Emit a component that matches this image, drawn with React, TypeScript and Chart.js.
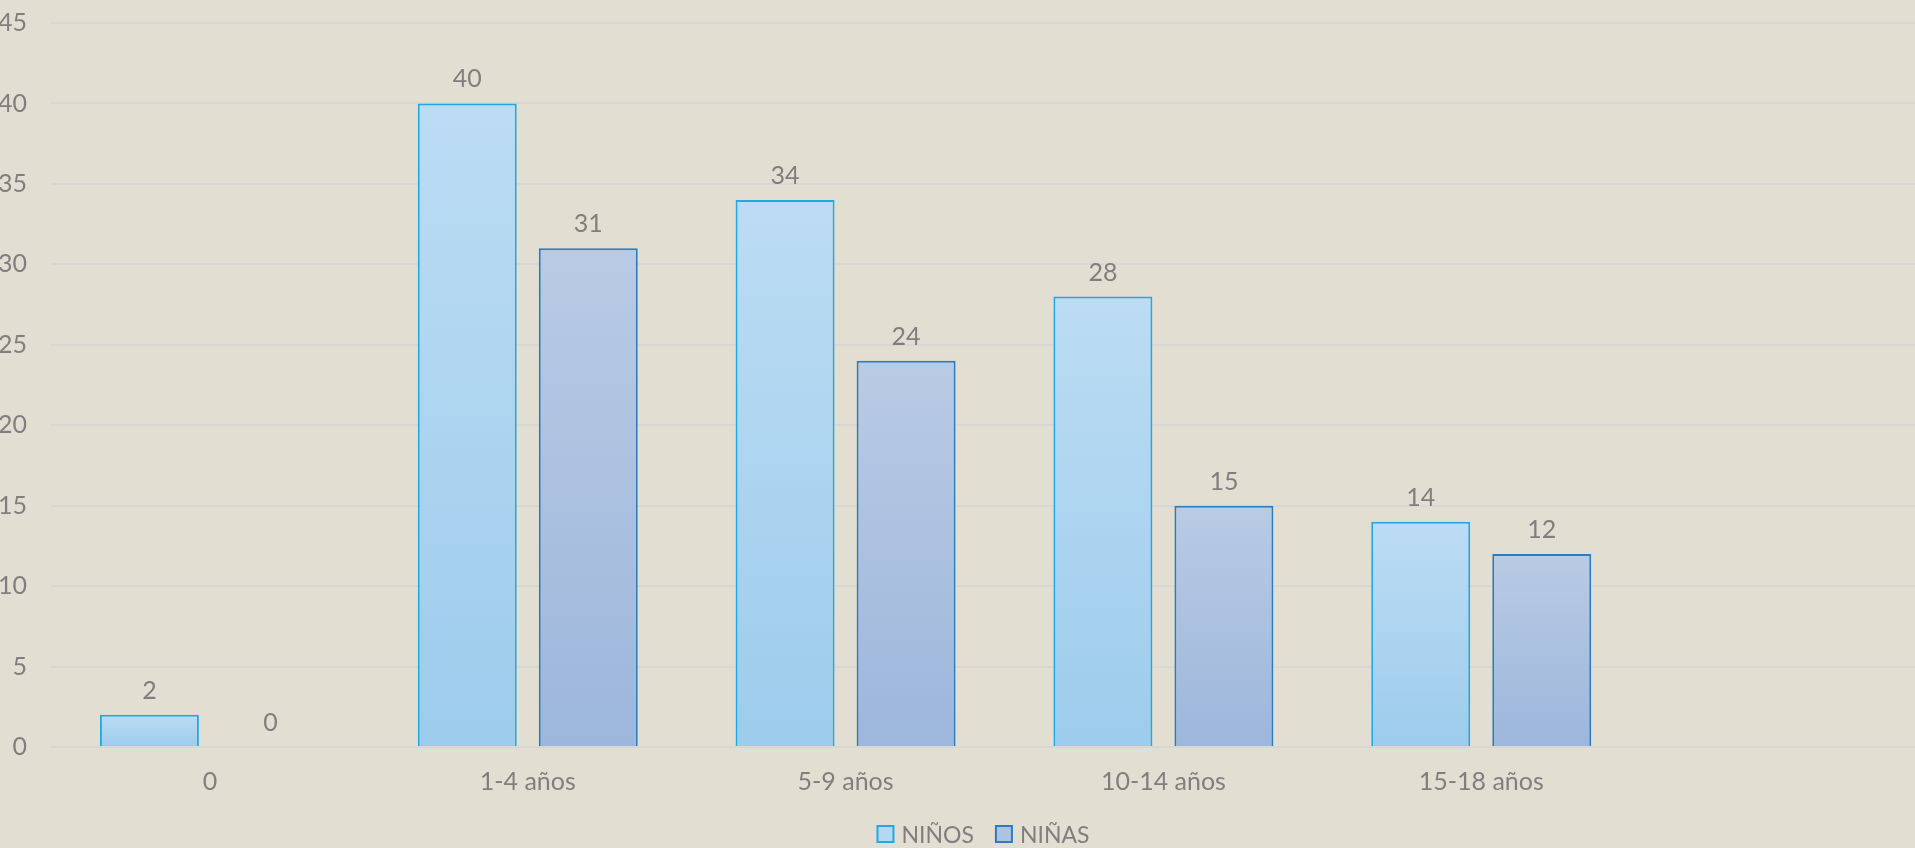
import React, { useEffect, useRef } from "react";
import { Chart, registerables } from "chart.js";

Chart.register(...registerables);

const categories = ["0", "1-4 años", "5-9 años", "10-14 años", "15-18 años", ""];
const ninos = [2, 40, 34, 28, 14, null];
const ninas = [0, 31, 24, 15, 12, null];
const seriesNames = ["NIÑOS", "NIÑAS"];

const FONT = "Lato, 'Open Sans', sans-serif";
const TEXT = "#7f7f7f";
const BG = "#e3ded2";
const GRID = "#d8d7d3";
const SHIFT = 24; // canvas starts this far left of the page

function barGradient(top: string, bottom: string, fallback: string) {
  return (c: any) => {
    const chart = c.chart;
    const y = chart.scales && chart.scales.y;
    const v = c.raw;
    if (!y || v == null || !chart.chartArea) return fallback;
    const yTop = y.getPixelForValue(v);
    const yBot = y.getPixelForValue(0);
    if (!isFinite(yTop) || !isFinite(yBot) || yTop === yBot) return fallback;
    const g = chart.ctx.createLinearGradient(0, yTop, 0, yBot);
    g.addColorStop(0, top);
    g.addColorStop(1, bottom);
    return g;
  };
}

const valueLabels = {
  id: "valueLabels",
  afterDatasetsDraw(chart: any) {
    const ctx = chart.ctx;
    ctx.save();
    ctx.font = `25px ${FONT}`;
    ctx.fillStyle = TEXT;
    ctx.textAlign = "center";
    ctx.textBaseline = "alphabetic";
    chart.data.datasets.forEach((ds: any, i: number) => {
      const meta = chart.getDatasetMeta(i);
      meta.data.forEach((bar: any, j: number) => {
        const v = ds.data[j];
        if (v == null) return;
        ctx.fillText(String(v), bar.x, bar.y - 16);
      });
    });
    ctx.restore();
  },
};

const bottomLegend = {
  id: "bottomLegend",
  afterDraw(chart: any) {
    const ctx = chart.ctx;
    const ds = chart.data.datasets;
    const box = 18;
    const gapBoxText = 7;
    const gapItems = 21;
    ctx.save();
    ctx.font = `23px ${FONT}`;
    const widths = ds.map((d: any) => box + gapBoxText + ctx.measureText(d.label).width);
    const total = widths.reduce((a: number, b: number) => a + b, 0) + gapItems * (ds.length - 1);
    let x = 983 + SHIFT - total / 2;
    const top = chart.height - 23;
    ds.forEach((d: any, i: number) => {
      ctx.fillStyle = d.legendFill;
      ctx.fillRect(x + 1, top + 1, box - 2, box - 2);
      ctx.strokeStyle = d.borderColor;
      ctx.lineWidth = 2;
      ctx.strokeRect(x + 1, top + 1, box - 2, box - 2);
      ctx.fillStyle = TEXT;
      ctx.textAlign = "left";
      ctx.textBaseline = "alphabetic";
      ctx.fillText(d.label, x + box + gapBoxText, top + box);
      x += widths[i] + gapItems;
    });
    ctx.restore();
  },
};

export default function App() {
  const ref = useRef<HTMLCanvasElement>(null);
  useEffect(() => {
    if (!ref.current) return;
    const chart = new Chart(ref.current, {
      type: "bar",
      data: {
        labels: categories,
        datasets: [
          {
            label: seriesNames[0],
            data: ninos,
            backgroundColor: barGradient("#bcdcf4", "#9dccec", "#addaf2"),
            borderColor: "#1faae3",
            legendFill: "#b3d9f2",
            borderWidth: 2,
            categoryPercentage: 0.7615,
            barPercentage: 0.818,
          } as any,
          {
            label: seriesNames[1],
            data: ninas,
            backgroundColor: barGradient("#b9cbe4", "#9db6dc", "#abc1e0"),
            borderColor: "#2a7dc1",
            legendFill: "#adc3e2",
            borderWidth: 2,
            categoryPercentage: 0.7615,
            barPercentage: 0.818,
          } as any,
        ],
      },
      options: {
        responsive: false,
        animation: false,
        devicePixelRatio: 1,
        layout: { padding: { left: 0, right: 32, top: 23, bottom: 31 } },
        plugins: {
          legend: { display: false },
          tooltip: { enabled: false },
        },
        scales: {
          x: {
            grid: { display: false, drawTicks: false },
            border: { display: false },
            ticks: { color: TEXT, font: { family: FONT, size: 25 }, padding: 20 },
            afterFit: (s: any) => {
              s.paddingLeft = 0;
              s.paddingRight = 0;
            },
          },
          y: {
            min: 0,
            max: 45,
            ticks: { stepSize: 5, color: TEXT, font: { family: FONT, size: 25 }, padding: 24 },
            grid: { color: GRID, lineWidth: 2, drawTicks: false },
            border: { display: false },
            afterFit: (s: any) => {
              s.width = 75;
              s.paddingTop = 0;
              s.paddingBottom = 0;
            },
          },
        },
      },
      plugins: [valueLabels, bottomLegend],
    });
    return () => chart.destroy();
  }, []);
  return (
    <div
      style={{
        position: "fixed",
        left: 0,
        top: 0,
        width: 1915,
        height: 848,
        overflow: "hidden",
        background: BG,
      }}
    >
      <canvas
        ref={ref}
        width={2014}
        height={848}
        style={{ position: "absolute", left: -SHIFT, top: 0, width: 2014, height: 848 }}
      />
    </div>
  );
}
